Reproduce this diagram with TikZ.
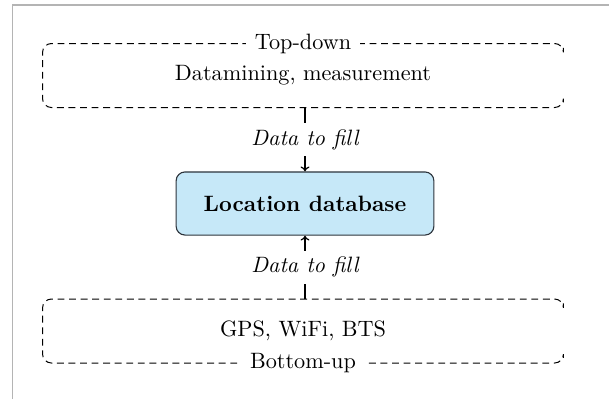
\documentclass[tikz,border=0pt]{standalone}
\usetikzlibrary{arrows.meta}
\definecolor{dbfill}{RGB}{198,232,248}
\definecolor{dbline}{RGB}{45,52,60}
\definecolor{framegray}{RGB}{180,180,180}
\tikzset{
  groupbox/.style={minimum width=234pt, minimum height=28.4pt, inner sep=0pt},
  grouptitle/.style={fill=white, inner xsep=4pt, inner ysep=1.5pt},
  dbbox/.style={draw=dbline, fill=dbfill, rounded corners=4pt, line width=0.5pt,
                minimum width=116pt, minimum height=28.4pt, font=\bfseries},
  fillarrow/.style={-{To[length=2.2pt,width=4pt]}, line width=0.55pt},
  filllabel/.style={fill=white, font=\itshape, inner sep=3pt},
  dashedside/.style={dash pattern=on 3.1pt off 2.1pt, line width=0.45pt, rounded corners=4pt},
}
\begin{document}
\begin{tikzpicture}[x=0.45pt, y=-0.45pt]
  \useasboundingbox (0,0) rectangle (609,399);
  % page frame along the top and left edges
  \draw[framegray, line width=0.7pt] (12.5,399) -- (12.5,5) -- (609,5);

  % top-down source group
  \node[groupbox] (top) at (303,75.5) {Datamining, measurement};
  \draw[dashedside] ([yshift=-2pt]top.north east) -- (top.north east) -- (top.north west)
        -- (top.south west) -- (top.south east) -- ([yshift=2pt]top.south east);
  \node[grouptitle] (toptitle) at (top.north) {Top-down};

  % central database
  \node[dbbox] (db) at (305,203.5) {Location database};

  % bottom-up source group
  \node[groupbox] (bottom) at (303,331) {GPS, WiFi, BTS};
  \draw[dashedside] ([yshift=-2pt]bottom.north east) -- (bottom.north east) -- (bottom.north west)
        -- (bottom.south west) -- (bottom.south east) -- ([yshift=2pt]bottom.south east);
  \node[grouptitle] (bottomtitle) at (bottom.south) {Bottom-up};

  % data flows into the database
  \draw[fillarrow] (top.south -| db.north) -- node[filllabel] {Data to fill} (db.north);
  \draw[fillarrow] (bottom.north -| db.south) -- node[filllabel] {Data to fill} (db.south);
\end{tikzpicture}
\end{document}
